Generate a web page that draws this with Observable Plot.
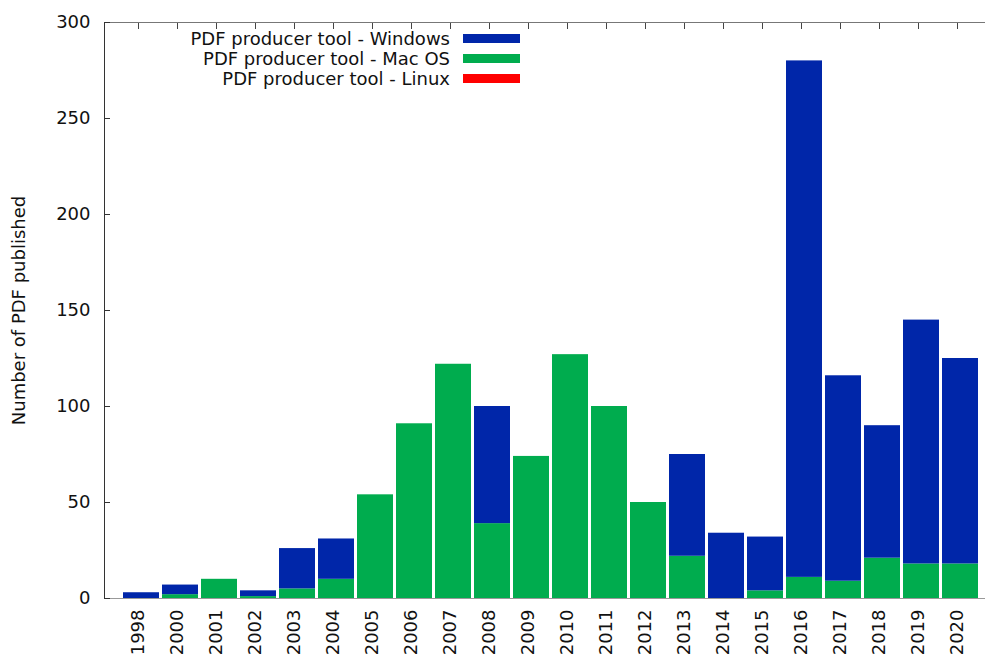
<!DOCTYPE html>
<html>
<head>
<meta charset="utf-8">
<script src="https://cdn.jsdelivr.net/npm/d3@7"></script>
<script src="https://cdn.jsdelivr.net/npm/@observablehq/plot@0.6"></script>
<style>
  html, body { margin: 0; padding: 0; background: #fff; }
  #wrap { position: relative; width: 986px; height: 655px; font-family: "DejaVu Sans", sans-serif; }
  #legend { position: absolute; left: 0; top: 28px; width: 520px; font-size: 18px; color: #111; }
  .row { display: flex; justify-content: flex-end; align-items: center; height: 20px; }
  .sw { width: 57px; height: 9px; margin-left: 13px; }
</style>
</head>
<body>
<div id="wrap"><div id="chart"></div><div id="legend"></div></div>
<script>
const years = ["1998","2000","2001","2002","2003","2004","2005","2006","2007","2008","2009","2010","2011","2012","2013","2014","2015","2016","2017","2018","2019","2020"];
const macOS   = [0, 2, 10, 1, 5, 10, 54, 91, 122, 39, 74, 127, 100, 50, 22, 0, 4, 11, 9, 21, 18, 18];
const windows = [3, 5, 0, 3, 21, 21, 0, 0, 0, 61, 0, 0, 0, 0, 53, 34, 28, 269, 107, 69, 127, 107];
const linux   = [0, 0, 0, 0, 0, 0, 0, 0, 0, 0, 0, 0, 0, 0, 0, 0, 0, 0, 0, 0, 0, 0];
const seriesNames = ["PDF producer tool - Windows", "PDF producer tool - Mac OS", "PDF producer tool - Linux"];
const seriesColors = ["#0026a9", "#00ac4e", "#ff0000"];
const yTicks = [0, 50, 100, 150, 200, 250, 300];

const rows = [];
years.forEach((y, i) => rows.push({year: y, os: seriesNames[1], n: macOS[i]}));
years.forEach((y, i) => rows.push({year: y, os: seriesNames[0], n: windows[i]}));
years.forEach((y, i) => rows.push({year: y, os: seriesNames[2], n: linux[i]}));

const chart = Plot.plot({
  width: 986,
  height: 655,
  marginLeft: 104,
  marginRight: 1,
  marginTop: 22,
  marginBottom: 57,
  style: {fontFamily: "DejaVu Sans, sans-serif", fontSize: "18px", color: "#111", background: "#fff"},
  x: {domain: years, range: [119.5, 981.5], paddingInner: 0.08, paddingOuter: 0.04},
  y: {domain: [0, 300]},
  color: {domain: seriesNames, range: seriesColors},
  marks: [
    Plot.barY(rows, Plot.stackY({x: "year", y: "n", fill: "os", order: null})),
    Plot.ruleY([0], {stroke: "#999", strokeWidth: 1.2}),
    Plot.ruleY([300], {stroke: "#777", strokeWidth: 1}),
    Plot.frame({anchor: "left", stroke: "#333"}),
    Plot.axisY({ticks: yTicks, tickSize: 0, tickPadding: 14, fontSize: 18, label: null}),
    Plot.axisY({ticks: yTicks, tickSize: -6, text: null, label: null, stroke: "#333"}),
    Plot.axisX({anchor: "top", tickSize: -6, text: null, label: null, stroke: "#444", dx: -3}),
    Plot.axisX({anchor: "bottom", tickSize: 0, tickPadding: 11, tickRotate: -90, fontSize: 18, label: null, dx: -3}),
    Plot.axisY({ticks: [], label: "Number of PDF published", labelAnchor: "center", labelOffset: 92, labelArrow: "none", fontSize: 18})
  ]
});
document.getElementById("chart").appendChild(chart);

const legend = document.getElementById("legend");
seriesNames.forEach((name, i) => {
  const r = document.createElement("div");
  r.className = "row";
  r.innerHTML = `<span>${name}</span><span class="sw" style="background:${seriesColors[i]}"></span>`;
  legend.appendChild(r);
});
</script>
</body>
</html>
